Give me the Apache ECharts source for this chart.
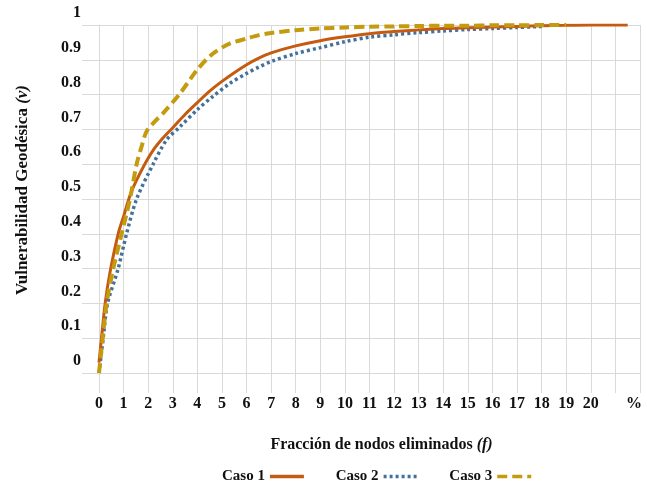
<!DOCTYPE html>
<html>
<head>
<meta charset="utf-8">
<script src="https://cdn.jsdelivr.net/npm/echarts@6/dist/echarts.min.js"></script>
<style>html,body{margin:0;padding:0;background:#fff}#c{width:647px;height:485px}</style>
</head>
<body>
<div id="c"></div>
<script>
var seriesNames = ['Caso 1', 'Caso 2', 'Caso 3'];
var case1X = [0, 0.1, 0.25, 0.45, 0.78, 1, 1.26, 1.5, 1.86, 2.2, 2.6, 3, 3.5, 4, 4.5, 5, 5.5, 6, 6.5, 7, 8, 9, 10, 11, 12, 13, 14, 15, 16, 17, 18, 19, 20, 21.5];
var case1Y = [0.03, 0.10, 0.20, 0.29, 0.40, 0.45, 0.51, 0.55, 0.60, 0.64, 0.675, 0.705, 0.743, 0.777, 0.81, 0.838, 0.863, 0.886, 0.905, 0.92, 0.94, 0.955, 0.966, 0.975, 0.981, 0.986, 0.99, 0.992, 0.994, 0.996, 0.998, 0.999, 1.0, 1.0];
var case2X = [0, 0.17, 0.35, 0.78, 1.12, 1.53, 2.2, 2.75, 3.3, 4, 4.6, 5.3, 6, 6.5, 7, 8, 9, 10, 11, 12, 13, 14, 15, 16, 17, 18];
var case2Y = [0.0, 0.10, 0.20, 0.30, 0.40, 0.50, 0.60, 0.67, 0.708, 0.757, 0.793, 0.831, 0.861, 0.879, 0.895, 0.918, 0.935, 0.952, 0.965, 0.972, 0.978, 0.983, 0.987, 0.99, 0.993, 0.996];
var case3X = [0, 0.15, 0.31, 0.58, 0.92, 1.26, 1.53, 1.75, 1.94, 2.3, 2.6, 3.3, 4, 4.6, 5.3, 6, 6.5, 7, 8, 9, 10, 11, 12, 13, 14, 15, 16, 17, 18, 19];
var case3Y = [0.0, 0.10, 0.20, 0.30, 0.40, 0.50, 0.60, 0.655, 0.695, 0.725, 0.746, 0.804, 0.872, 0.916, 0.946, 0.961, 0.971, 0.977, 0.985, 0.99, 0.993, 0.995, 0.996, 0.997, 0.998, 0.998, 0.999, 0.999, 1.0, 1.0];
var xTickLabels = ['0','1','2','3','4','5','6','7','8','9','10','11','12','13','14','15','16','17','18','19','20','','%'];
var xTitle = 'Fracción de nodos eliminados ';
var xTitleSym = '(f)';
var yTitle = 'Vulnerabilidad Geodésica ';
var yTitleSym = '(v)';

function pairs(xs, ys) { return xs.map(function (x, i) { return [x, ys[i]]; }); }

var FONT = "'Liberation Serif', 'Times New Roman', serif";
var GRID = '#D9D9D9';
var chart = echarts.init(document.getElementById('c'), null, {renderer: 'canvas'});
chart.setOption({
  animation: false,
  backgroundColor: '#fff',
  grid: {left: 99, right: 7, top: 25, bottom: 112, containLabel: false},
  xAxis: {
    type: 'value', min: 0, max: 22, interval: 1,
    axisLine: {show: true, lineStyle: {color: GRID, width: 1}},
    axisTick: {show: true, length: 20, inside: false, lineStyle: {color: GRID, width: 1}},
    splitLine: {show: true, lineStyle: {color: GRID, width: 1}},
    axisLabel: {
      margin: 23, color: '#111', fontFamily: FONT, fontWeight: 'bold', fontSize: 16,
      formatter: function (v) {
        var s = xTickLabels[Math.round(v)];
        return s === '%' ? '{p|%}' : s;
      },
      rich: {p: {fontFamily: FONT, fontWeight: 'bold', fontSize: 16, color: '#111', padding: [0, 12, 0, 0]}}
    },
    name: xTitle + '{it|' + xTitleSym + '}',
    nameLocation: 'middle', nameGap: 64,
    nameTextStyle: {
      color: '#111', fontFamily: FONT, fontWeight: 'bold', fontSize: 16, padding: [0, 0, 0, 24],
      rich: {it: {fontFamily: FONT, fontWeight: 'bold', fontStyle: 'italic', fontSize: 16, color: '#111'}}
    }
  },
  yAxis: {
    type: 'value', min: 0, max: 1, interval: 0.1,
    axisLine: {show: true, lineStyle: {color: GRID, width: 1}},
    axisTick: {show: true, length: 17, inside: false, lineStyle: {color: GRID, width: 1}},
    splitLine: {show: true, lineStyle: {color: GRID, width: 1}},
    axisLabel: {
      margin: 18, color: '#111', fontFamily: FONT, fontWeight: 'bold', fontSize: 16,
      verticalAlign: 'bottom', lineHeight: 24,
      formatter: function (v) { return String(Math.round(v * 10) / 10); }
    },
    name: yTitle + '{it|' + yTitleSym + '}',
    nameLocation: 'middle', nameGap: 68, nameRotate: 90,
    nameTextStyle: {
      color: '#111', fontFamily: FONT, fontWeight: 'bold', fontSize: 17, padding: [0, 0, 0, 18],
      rich: {it: {fontFamily: FONT, fontWeight: 'bold', fontStyle: 'italic', fontSize: 17, color: '#111'}}
    }
  },
  legend: {
    bottom: 1, left: 222, padding: 0, align: 'right', itemGap: 30, itemWidth: 34, itemHeight: 14,
    itemStyle: {opacity: 0},
    lineStyle: {width: 3.5},
    textStyle: {color: '#111', fontFamily: FONT, fontWeight: 'bold', fontSize: 15},
    data: seriesNames
  },
  series: [
    {name: seriesNames[0], type: 'line', data: pairs(case1X, case1Y), symbol: 'none', smooth: 0.3, z: 3,
     itemStyle: {color: '#C55A11'}, lineStyle: {color: '#C55A11', width: 3, type: 'solid'}},
    {name: seriesNames[1], type: 'line', data: pairs(case2X, case2Y), symbol: 'none', smooth: 0.3, z: 2,
     itemStyle: {color: '#44719B'}, lineStyle: {color: '#44719B', width: 3.5, type: [3, 3]}},
    {name: seriesNames[2], type: 'line', data: pairs(case3X, case3Y), symbol: 'none', smooth: 0.3, z: 4,
     itemStyle: {color: '#C49A0E'}, lineStyle: {color: '#C49A0E', width: 4, type: [10, 5]}}
  ]
});
</script>
</body>
</html>
